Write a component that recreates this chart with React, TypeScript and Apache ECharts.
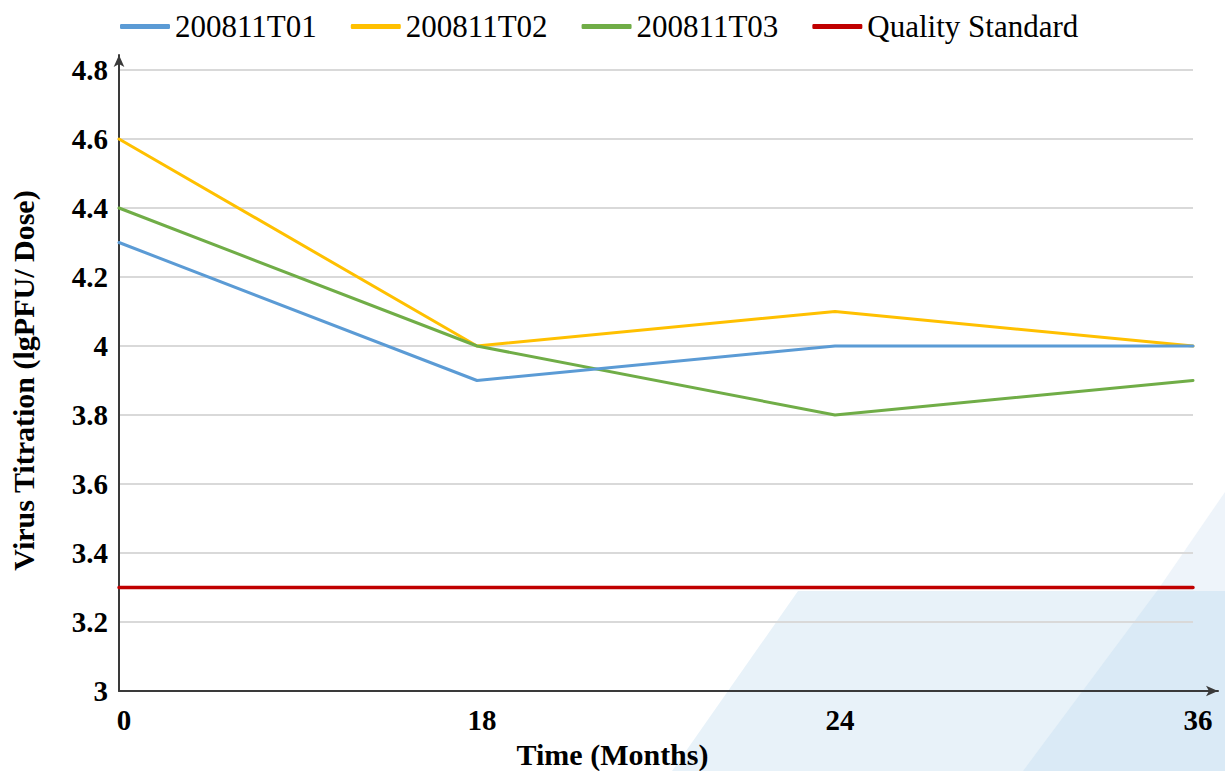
import React, { useEffect, useRef } from "react";
import * as echarts from "echarts";

const months = ["0", "18", "24", "36"];
const seriesT01 = [4.3, 3.9, 4.0, 4.0];
const seriesT02 = [4.6, 4.0, 4.1, 4.0];
const seriesT03 = [4.4, 4.0, 3.8, 3.9];
const qualityStandard = [3.3, 3.3, 3.3, 3.3];
const seriesNames = ["200811T01", "200811T02", "200811T03", "Quality Standard"];
const yMin = 3;
const yMax = 4.8;
const yStep = 0.2;

const SERIF = "Liberation Serif";

export default function App() {
  const ref = useRef<HTMLDivElement>(null);
  useEffect(() => {
    document.body.style.margin = "0";
    if (!ref.current) return;
    const chart = echarts.init(ref.current, null, { renderer: "svg" });
    const line = (name: string, data: number[], color: string, z: number, width = 3) => ({
      name,
      type: "line",
      data,
      xAxisIndex: 0,
      yAxisIndex: 0,
      symbol: "none",
      z,
      lineStyle: { color, width, cap: "round" },
      itemStyle: { color },
    });
    chart.setOption({
      animation: false,
      backgroundColor: "#ffffff",
      textStyle: { fontFamily: SERIF },
      title: {
        text: "Time (Months)",
        left: "center",
        top: 734,
        textStyle: { fontFamily: SERIF, fontWeight: "bold", fontSize: 30, color: "#000" },
      },
      legend: {
        data: seriesNames,
        left: 115,
        top: 6,
        icon: "roundRect",
        itemWidth: 50,
        itemHeight: 5,
        itemGap: 34,
        textStyle: { fontFamily: SERIF, fontWeight: "normal", fontSize: 31, color: "#000" },
      },
      graphic: [
        {
          type: "polygon",
          z: -10,
          silent: true,
          shape: { points: [[672, 771], [798, 591], [1225, 591], [1225, 771]] },
          style: { fill: "#E8F2F9" },
        },
        {
          type: "polygon",
          z: -9,
          silent: true,
          shape: { points: [[1157, 591], [1225, 492], [1225, 591]] },
          style: { fill: "#EEF4FA" },
        },
        {
          type: "polygon",
          z: -9,
          silent: true,
          shape: { points: [[1023, 771], [1157, 591], [1225, 591], [1225, 771]] },
          style: { fill: "#DAEAF6" },
        },
      ],
      grid: [
        { left: 119, right: 32, top: 70, bottom: 80 },
        { left: 119, right: 7, top: 55, bottom: 80 },
      ],
      xAxis: [
        {
          type: "category",
          gridIndex: 0,
          data: months,
          boundaryGap: false,
          axisLine: { show: false },
          axisTick: { show: false },
          axisLabel: {
            fontFamily: SERIF,
            fontWeight: "bold",
            fontSize: 29,
            color: "#000",
            margin: 14,
            padding: [0, 0, 0, 10],
          },
          splitLine: { show: false },
        },
        {
          type: "value",
          gridIndex: 1,
          min: 0,
          max: 1,
          axisLine: {
            show: true,
            symbol: ["none", "arrow"],
            symbolSize: [8, 12],
            lineStyle: { color: "#3a3a3a", width: 2 },
          },
          axisTick: { show: false },
          axisLabel: { show: false },
          splitLine: { show: false },
        },
      ],
      yAxis: [
        {
          type: "value",
          gridIndex: 0,
          min: yMin,
          max: yMax,
          interval: yStep,
          name: "Virus Titration (lgPFU/ Dose)",
          nameLocation: "middle",
          nameGap: 81,
          nameTextStyle: { fontFamily: SERIF, fontWeight: "bold", fontSize: 30, color: "#000" },
          axisLine: { show: false },
          axisTick: { show: false },
          axisLabel: {
            fontFamily: SERIF,
            fontWeight: "bold",
            fontSize: 29,
            color: "#000",
            margin: 11,
            formatter: (v: number) => String(Math.round(v * 10) / 10),
          },
          splitLine: { show: true, lineStyle: { color: "#D9D9D9", width: 2 } },
        },
        {
          type: "value",
          gridIndex: 1,
          min: 0,
          max: 1,
          axisLine: {
            show: true,
            symbol: ["none", "arrow"],
            symbolSize: [8, 12],
            lineStyle: { color: "#3a3a3a", width: 2 },
          },
          axisTick: { show: false },
          axisLabel: { show: false },
          splitLine: { show: false },
        },
      ],
      series: [
        line(seriesNames[0], seriesT01, "#5B9BD5", 6),
        line(seriesNames[1], seriesT02, "#FFC000", 4),
        line(seriesNames[2], seriesT03, "#70AD47", 5),
        line(seriesNames[3], qualityStandard, "#C00000", 3, 3.5),
      ],
    });
    return () => chart.dispose();
  }, []);
  return <div ref={ref} style={{ width: 1225, height: 771 }} />;
}
